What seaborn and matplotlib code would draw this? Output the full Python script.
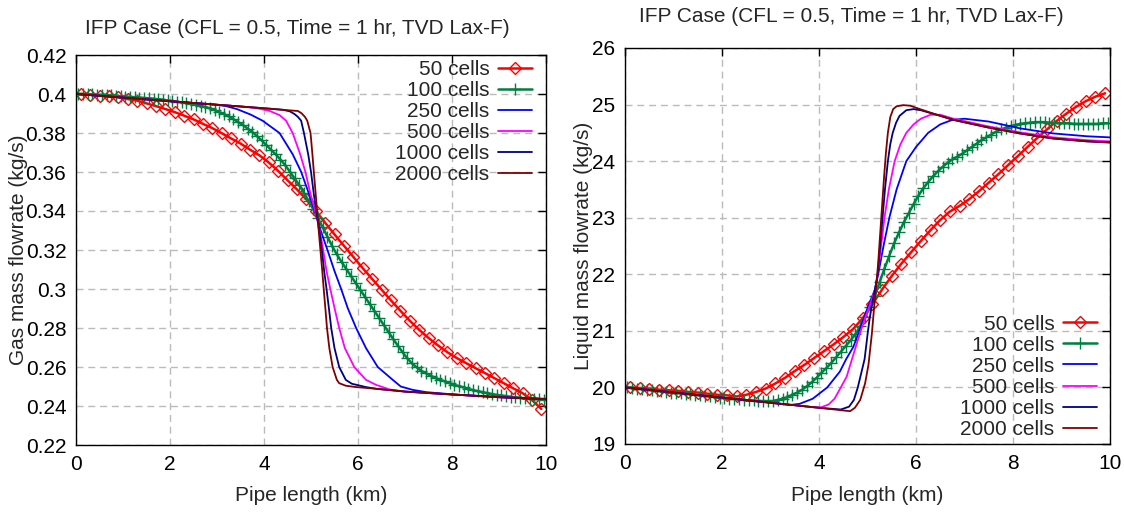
import numpy as np
import matplotlib
matplotlib.use("Agg")
import matplotlib.pyplot as plt
import seaborn as sns

# ---------------- data ----------------
title_txt = "IFP Case (CFL = 0.5, Time = 1 hr, TVD Lax-F)"
series_labels = ["50 cells", "100 cells", "250 cells", "500 cells", "1000 cells", "2000 cells"]
series_colors = ["#ff0000", "#008040", "#0000ff", "#ff00ff", "#000080", "#800000"]

x_ticks = [0, 2, 4, 6, 8, 10]
gas_yticks = [0.22, 0.24, 0.26, 0.28, 0.30, 0.32, 0.34, 0.36, 0.38, 0.40, 0.42]
gas_yticklabels = ["0.22", "0.24", "0.26", "0.28", "0.3", "0.32", "0.34", "0.36", "0.38", "0.4", "0.42"]
liq_yticks = [19, 20, 21, 22, 23, 24, 25, 26]

# cell centres of the coarse grids (km)
x50 = np.round(np.arange(0.1, 10.0, 0.2), 3)
x100 = np.round(np.arange(0.05, 10.0, 0.1), 3)

gas50 = [0.4000, 0.3997, 0.3991, 0.3988, 0.3983, 0.3974, 0.3966, 0.3952, 0.3938, 0.3923,
         0.3907, 0.3889, 0.3870, 0.3847, 0.3825, 0.3799, 0.3772, 0.3746, 0.3715, 0.3686,
         0.3649, 0.3606, 0.3558, 0.3511, 0.3460, 0.3400, 0.3340, 0.3280, 0.3222, 0.3165,
         0.3107, 0.3052, 0.2997, 0.2942, 0.2889, 0.2838, 0.2791, 0.2749, 0.2711, 0.2676,
         0.2646, 0.2620, 0.2594, 0.2569, 0.2543, 0.2517, 0.2491, 0.2466, 0.2431, 0.2385]

gas100 = [0.4001, 0.4000, 0.3999, 0.3998, 0.3997, 0.3996, 0.3995, 0.3993, 0.3991, 0.3989,
          0.3987, 0.3985, 0.3984, 0.3982, 0.3980, 0.3978, 0.3976, 0.3973, 0.3971, 0.3967,
          0.3964, 0.3961, 0.3957, 0.3954, 0.3950, 0.3945, 0.3940, 0.3933, 0.3926, 0.3918,
          0.3907, 0.3897, 0.3885, 0.3871, 0.3856, 0.3841, 0.3823, 0.3805, 0.3784, 0.3762,
          0.3738, 0.3714, 0.3690, 0.3664, 0.3635, 0.3602, 0.3568, 0.3532, 0.3493, 0.3451,
          0.3409, 0.3362, 0.3316, 0.3268, 0.3220, 0.3177, 0.3139, 0.3103, 0.3067, 0.3031,
          0.2995, 0.2959, 0.2923, 0.2887, 0.2851, 0.2815, 0.2779, 0.2743, 0.2709, 0.2675,
          0.2644, 0.2618, 0.2598, 0.2580, 0.2567, 0.2555, 0.2544, 0.2534, 0.2526, 0.2517,
          0.2508, 0.2502, 0.2495, 0.2488, 0.2481, 0.2476, 0.2471, 0.2466, 0.2461, 0.2457,
          0.2454, 0.2450, 0.2447, 0.2445, 0.2442, 0.2440, 0.2438, 0.2437, 0.2435, 0.2433]

gas250_x = [0, 2, 2.98, 3.19, 3.42, 3.72, 3.97, 4.33, 4.61, 4.79, 4.96, 5.08, 5.21, 5.35,
            5.50, 5.64, 5.78, 5.96, 6.17, 6.42, 6.74, 6.91, 7.16, 7.45, 8.0, 9.0, 10]
gas250 = [0.4000, 0.3963, 0.3945, 0.3938, 0.3923, 0.3894, 0.3863, 0.3800, 0.3691, 0.3601,
          0.3486, 0.3400, 0.3297, 0.3200, 0.3092, 0.3001, 0.2903, 0.2800, 0.2697, 0.2600,
          0.2534, 0.2500, 0.2483, 0.2471, 0.2460, 0.2446, 0.2437]

gas500_x = [0, 2, 3.5, 3.83, 4.11, 4.33, 4.47, 4.61, 4.77, 4.88, 4.99, 5.09, 5.19, 5.26,
            5.33, 5.41, 5.50, 5.60, 5.72, 5.92, 6.17, 6.38, 6.67, 7.0, 8.0, 9.0, 10]
gas500 = [0.4000, 0.3963, 0.3936, 0.3928, 0.3914, 0.3892, 0.3863, 0.3800, 0.3691, 0.3601,
          0.3486, 0.3400, 0.3297, 0.3200, 0.3092, 0.3001, 0.2903, 0.2800, 0.2697, 0.2600,
          0.2534, 0.2509, 0.2485, 0.2474, 0.2459, 0.2445, 0.2436]

gas1000_x = [0, 2, 4, 4.40, 4.55, 4.65, 4.72, 4.79, 4.85, 4.94, 5.00, 5.06, 5.11, 5.18,
             5.23, 5.28, 5.33, 5.38, 5.43, 5.50, 5.60, 5.74, 5.87, 5.96, 6.17, 6.4, 7.0,
             8.0, 9.0, 10]
gas1000 = [0.4000, 0.3963, 0.3927, 0.3919, 0.3911, 0.3897, 0.3883, 0.3863, 0.3800, 0.3691,
           0.3601, 0.3486, 0.3400, 0.3297, 0.3200, 0.3092, 0.3001, 0.2903, 0.2800, 0.2697,
           0.2600, 0.2534, 0.2514, 0.2509, 0.2497, 0.2488, 0.2474, 0.2459, 0.2445, 0.2435]

gas2000_x = [0, 2, 4, 4.55, 4.72, 4.80, 4.87, 4.92, 4.99, 5.03, 5.06, 5.10, 5.13, 5.165,
             5.20, 5.24, 5.27, 5.305, 5.34, 5.39, 5.46, 5.55, 5.60, 5.74, 5.96, 6.4, 7.0,
             8.0, 9.0, 10]
gas2000 = [0.4000, 0.3963, 0.3927, 0.3916, 0.3913, 0.3901, 0.3883, 0.3863, 0.3800, 0.3691,
           0.3601, 0.3486, 0.3400, 0.3297, 0.3200, 0.3092, 0.3001, 0.2903, 0.2800, 0.2697,
           0.2600, 0.2534, 0.2517, 0.2504, 0.2497, 0.2488, 0.2474, 0.2459, 0.2445, 0.2435]

liq50 = [20.00, 19.99, 19.98, 19.96, 19.95, 19.94, 19.92, 19.91, 19.89, 19.87,
         19.86, 19.84, 19.87, 19.92, 19.98, 20.07, 20.17, 20.29, 20.40, 20.52,
         20.64, 20.76, 20.89, 21.03, 21.22, 21.47, 21.73, 21.97, 22.19, 22.39,
         22.59, 22.78, 22.96, 23.11, 23.21, 23.33, 23.47, 23.62, 23.77, 23.93,
         24.09, 24.25, 24.41, 24.56, 24.71, 24.84, 24.96, 25.06, 25.14, 25.20]

liq100 = [20.00, 19.99, 19.98, 19.97, 19.96, 19.95, 19.94, 19.93, 19.92, 19.91,
          19.90, 19.90, 19.89, 19.88, 19.87, 19.86, 19.85, 19.84, 19.83, 19.82,
          19.81, 19.80, 19.80, 19.79, 19.78, 19.77, 19.77, 19.76, 19.76, 19.76,
          19.76, 19.78, 19.80, 19.83, 19.87, 19.91, 19.96, 20.02, 20.09, 20.17,
          20.26, 20.34, 20.43, 20.53, 20.63, 20.73, 20.83, 20.94, 21.08, 21.24,
          21.42, 21.62, 21.86, 22.10, 22.33, 22.55, 22.74, 22.92, 23.08, 23.24,
          23.39, 23.52, 23.63, 23.73, 23.82, 23.90, 23.97, 24.03, 24.08, 24.13,
          24.19, 24.25, 24.31, 24.37, 24.42, 24.47, 24.52, 24.56, 24.59, 24.62,
          24.64, 24.66, 24.67, 24.68, 24.69, 24.69, 24.69, 24.68, 24.68, 24.67,
          24.67, 24.67, 24.66, 24.66, 24.66, 24.66, 24.66, 24.66, 24.67, 24.67]

liq250_x = [0, 2, 3.4, 3.6, 3.87, 4.17, 4.43, 4.56, 4.71, 4.83, 4.91, 5.02, 5.15, 5.22,
            5.33, 5.45, 5.60, 5.80, 6.0, 6.25, 6.5, 6.75, 7.0, 7.5, 8.14, 8.83, 9.52, 10]
liq250 = [20.00, 19.82, 19.69, 19.71, 19.80, 20.00, 20.28, 20.50, 20.72, 21.00, 21.19,
          21.45, 21.72, 22.00, 22.50, 23.00, 23.50, 24.00, 24.25, 24.50, 24.65, 24.73,
          24.75, 24.70, 24.58, 24.49, 24.44, 24.42]

liq500_x = [0, 2, 3.9, 4.05, 4.20, 4.32, 4.45, 4.57, 4.68, 4.78, 4.86, 4.96, 5.06, 5.16,
            5.21, 5.28, 5.35, 5.44, 5.56, 5.68, 5.80, 5.95, 6.10, 6.30, 6.50, 6.77, 7.46,
            8.14, 8.83, 9.52, 10]
liq500 = [20.00, 19.82, 19.65, 19.65, 19.70, 19.80, 20.00, 20.19, 20.50, 20.78, 21.00,
          21.25, 21.48, 21.75, 22.00, 22.50, 23.00, 23.50, 24.00, 24.30, 24.50, 24.65,
          24.75, 24.82, 24.82, 24.75, 24.62, 24.51, 24.42, 24.37, 24.35]

liq1000_x = [0, 2, 4, 4.45, 4.62, 4.72, 4.80, 4.87, 4.94, 5.01, 5.05, 5.10, 5.17, 5.21,
             5.26, 5.31, 5.36, 5.42, 5.47, 5.52, 5.59, 5.66, 5.80, 5.95, 6.10, 6.30, 6.43,
             6.77, 7.46, 8.14, 8.83, 9.52, 10]
liq1000 = [20.00, 19.82, 19.64, 19.61, 19.66, 19.78, 20.00, 20.25, 20.50, 21.00, 21.25,
           21.50, 21.80, 22.00, 22.50, 23.00, 23.50, 24.00, 24.30, 24.50, 24.68, 24.80,
           24.90, 24.92, 24.90, 24.85, 24.82, 24.73, 24.60, 24.49, 24.40, 24.35, 24.33]

liq2000_x = [0, 2, 4, 4.64, 4.74, 4.85, 4.95, 5.02, 5.09, 5.14, 5.18, 5.22, 5.26, 5.30,
             5.34, 5.38, 5.42, 5.47, 5.53, 5.60, 5.74, 5.88, 6.08, 6.43, 6.77, 7.46, 8.14,
             8.83, 9.52, 10]
liq2000 = [20.00, 19.82, 19.64, 19.58, 19.64, 19.78, 20.07, 20.40, 20.95, 21.45, 21.80,
           22.20, 22.70, 23.20, 23.70, 24.15, 24.50, 24.78, 24.92, 24.97, 24.99, 24.98,
           24.92, 24.82, 24.73, 24.60, 24.49, 24.40, 24.35, 24.33]

# ---------------- style ----------------
sns.set_theme(style="white")
plt.rcParams["font.family"] = ["Liberation Sans", "DejaVu Sans"]
FS = 15

W, H = 1124, 514
fig = plt.figure(figsize=(W / 100, H / 100), dpi=100)

def frac_box(x0, y0, x1, y1):
    return [x0 / W, 1 - y1 / H, (x1 - x0) / W, (y1 - y0) / H]

axL = fig.add_axes(frac_box(76, 55, 546, 445))
axR = fig.add_axes(frac_box(625, 48, 1110, 444))

def draw(ax, xs_list, ys_list):
    for i, (xs, ys) in enumerate(zip(xs_list, ys_list)):
        c = series_colors[i]
        kw = dict(color=c, lw=1.3, label=series_labels[i])
        if i == 0:
            kw.update(marker="D", markersize=5.8, markerfacecolor="none",
                      markeredgecolor=c, markeredgewidth=1.0, lw=1.8)
        elif i == 1:
            kw.update(marker="+", markersize=8, markerfacecolor=c,
                      markeredgecolor=c, markeredgewidth=1.0, lw=1.8)
        sns.lineplot(x=np.asarray(xs, float), y=np.asarray(ys, float), ax=ax,
                     estimator=None, sort=False, **kw)

draw(axL, [x50, x100, gas250_x, gas500_x, gas1000_x, gas2000_x],
     [gas50, gas100, gas250, gas500, gas1000, gas2000])
draw(axR, [x50, x100, liq250_x, liq500_x, liq1000_x, liq2000_x],
     [liq50, liq100, liq250, liq500, liq1000, liq2000])

for ax in (axL, axR):
    ax.set_xlim(0, 10)
    ax.set_xticks(x_ticks)
    ax.set_xticklabels([str(t) for t in x_ticks])
    ax.grid(True, color="#bbbbbb", linestyle=(0, (5, 3.5)), linewidth=1.0)
    ax.tick_params(direction="in", length=6, width=1, top=True, right=True,
                   labelsize=FS, colors="black", pad=7)
    for s in ax.spines.values():
        s.set_color("black")
        s.set_linewidth(1.0)
    ax.set_xlabel("Pipe length (km)", fontsize=FS)

axL.xaxis.set_label_coords(0.5, -0.105)
axR.xaxis.set_label_coords(0.5, -0.106)

axL.set_ylim(0.22, 0.42)
axL.set_yticks(gas_yticks)
axL.set_yticklabels(gas_yticklabels)
axL.set_ylabel("Gas mass flowrate (kg/s)", fontsize=FS)
axL.yaxis.set_label_coords(-0.103, 0.5)

axR.set_ylim(19, 26)
axR.set_yticks(liq_yticks)
axR.set_yticklabels([str(t) for t in liq_yticks])
axR.set_ylabel("Liquid mass flowrate (kg/s)", fontsize=FS)
axR.yaxis.set_label_coords(-0.066, 0.5)

fig.text(297 / W, 1 - 28 / H, title_txt, ha="center", va="center", fontsize=FS)
fig.text(851 / W, 1 - 16 / H, title_txt, ha="center", va="center", fontsize=FS)

legkw = dict(frameon=False, markerfirst=False, fontsize=FS, handlelength=1.65,
             handletextpad=0.4, labelspacing=0.1, borderaxespad=0, borderpad=0)
axL.legend(loc="upper right", bbox_to_anchor=(532 / W, 1 - 60 / H),
           bbox_transform=fig.transFigure, **legkw)
axR.legend(loc="lower right", bbox_to_anchor=(1097 / W, 1 - 439 / H),
           bbox_transform=fig.transFigure, **legkw)

fig.savefig("out.png", dpi=100)
